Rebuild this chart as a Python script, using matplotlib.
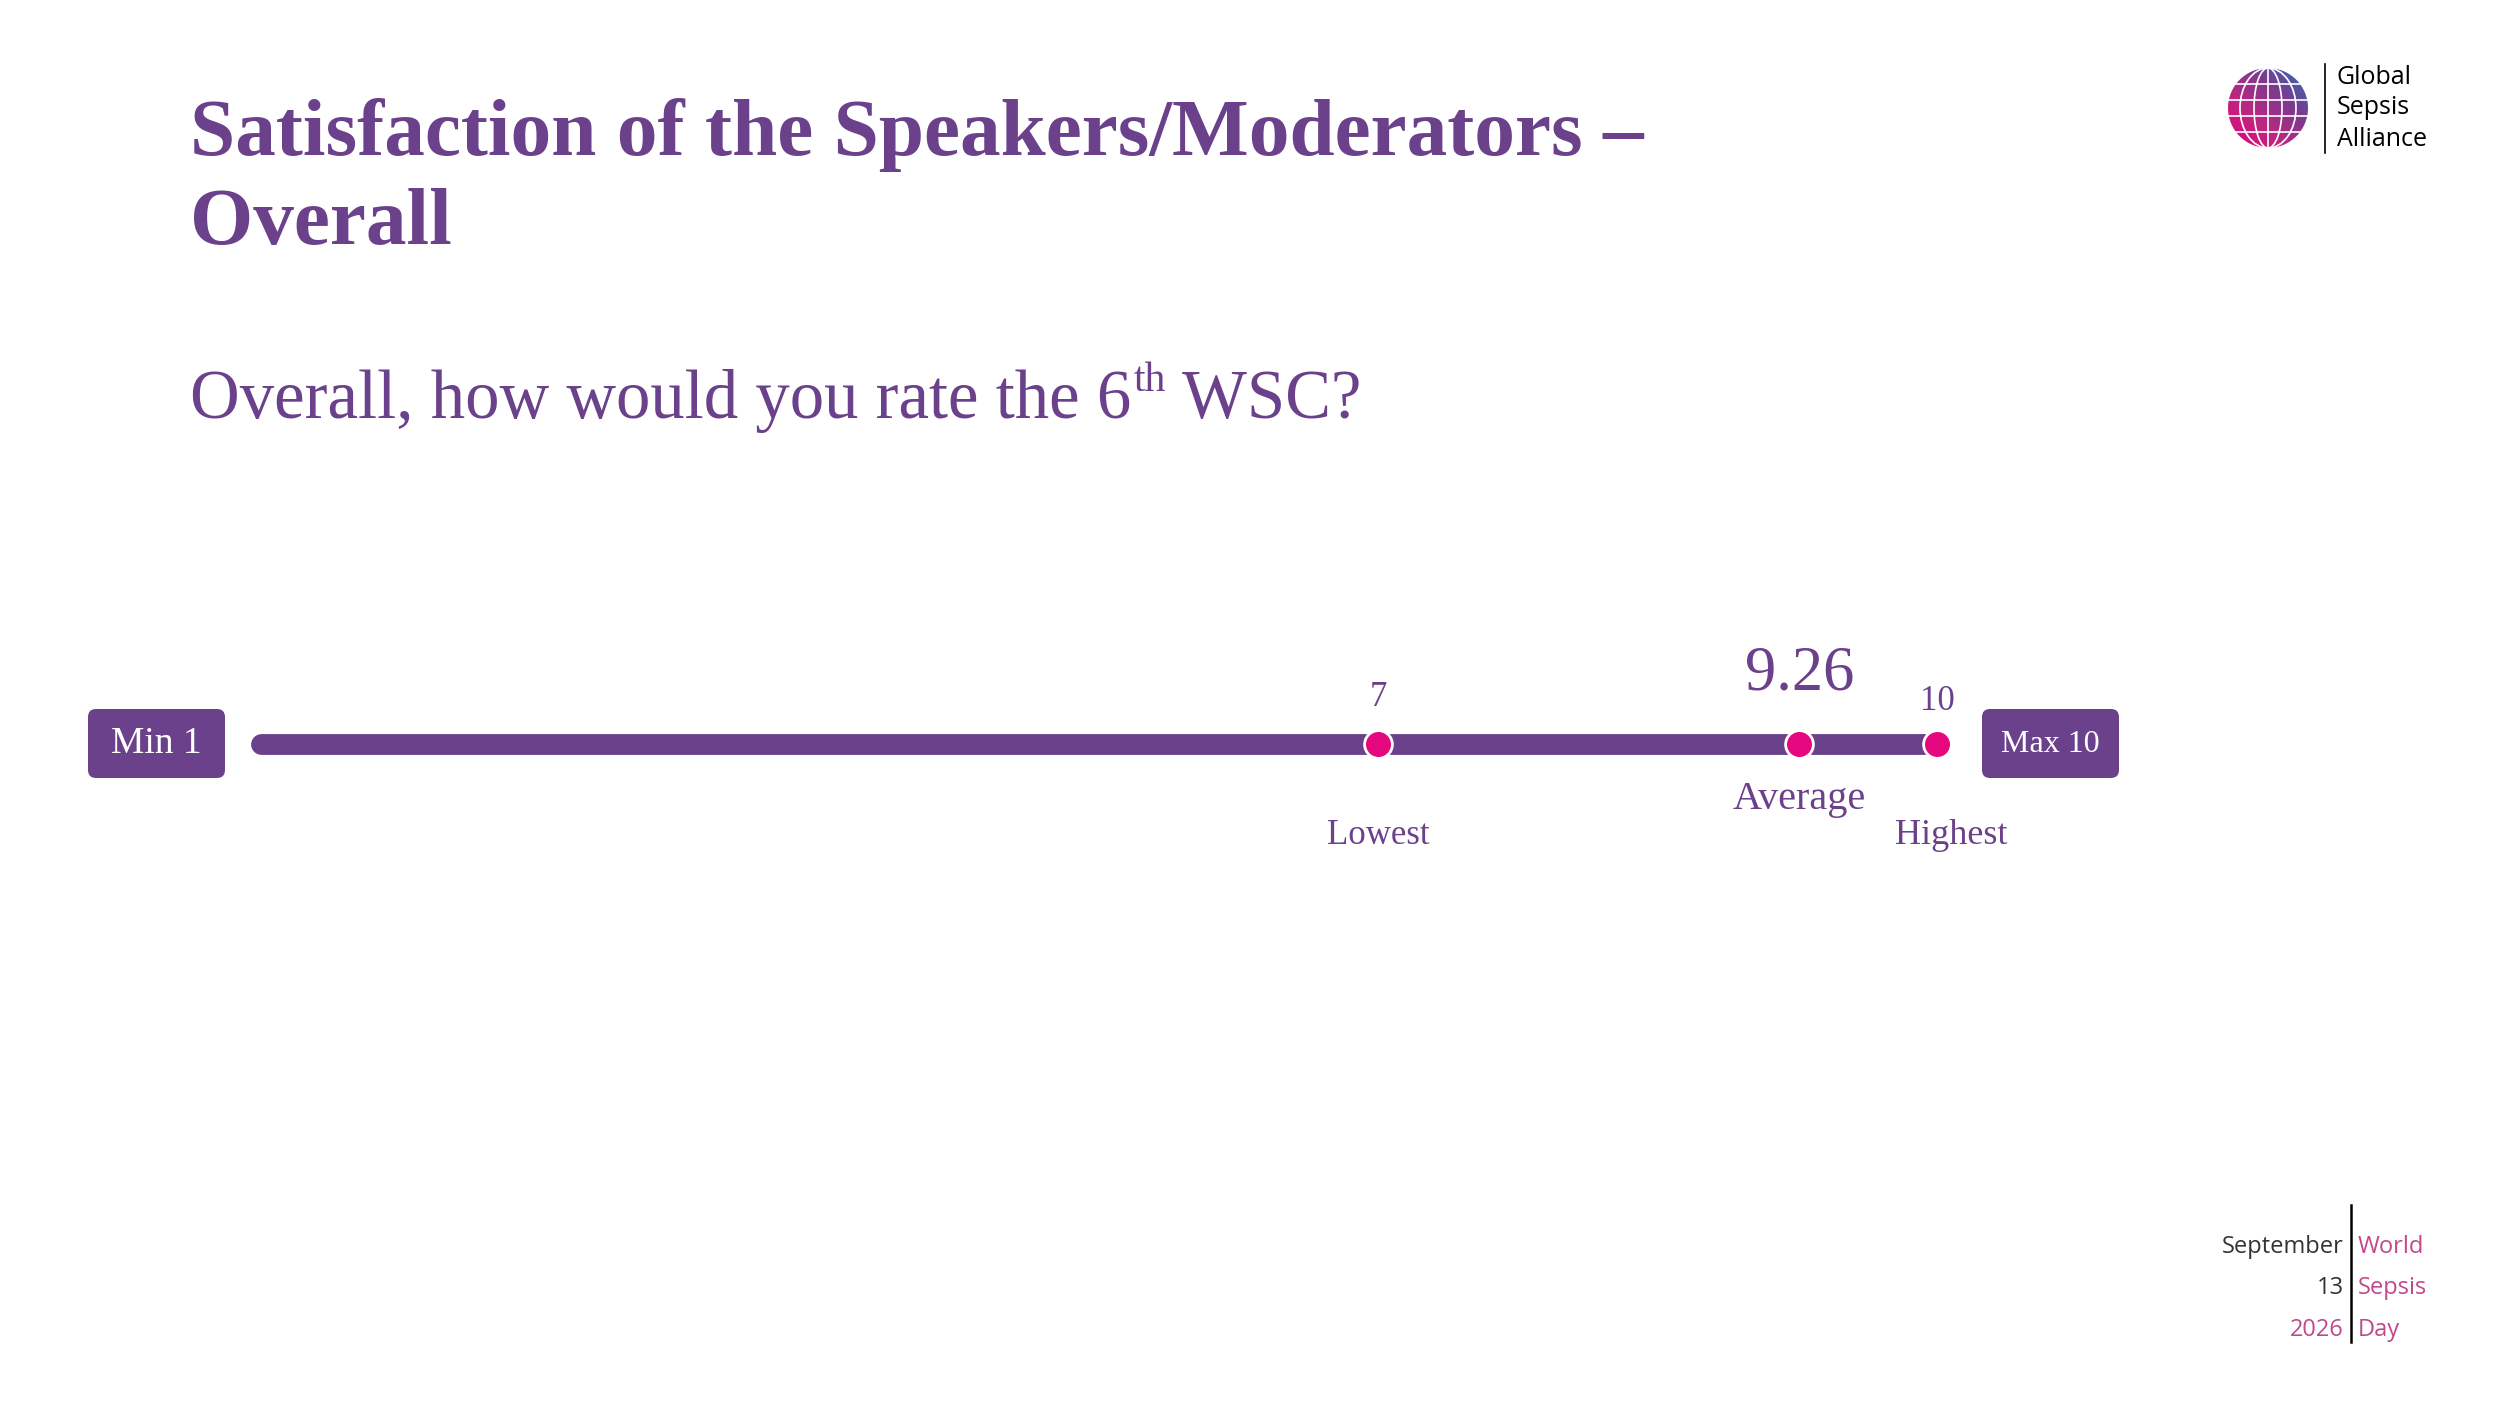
import matplotlib
matplotlib.use("Agg")
import matplotlib.pyplot as plt
import numpy as np
from matplotlib.patches import FancyBboxPatch, Circle, Ellipse
from matplotlib.transforms import IdentityTransform

# data
scale_min = 1
scale_max = 10
stat_names = ["Lowest", "Average", "Highest"]
stat_values = [7, 9.26, 10]
stat_labels = ["7", "9.26", "10"]

title_lines = ["Satisfaction of the Speakers/Moderators \u2013", "Overall"]
question = ["Overall, how would you rate the 6", "th", " WSC?"]

PURPLE = "#6b418b"
PINK = "#e5077e"
W, H = 2500, 1406
SERIF = ["Liberation Serif", "DejaVu Serif"]

fig = plt.figure(figsize=(25, 14.06), dpi=100)
fig.patch.set_facecolor("white")


def fx(x):
    return x / W


def fy(y):
    return 1 - y / H


# titles
fig.text(fx(190), fy(155), title_lines[0], family=SERIF, weight="bold",
         size=58.5, color=PURPLE, va="baseline")
fig.text(fx(190), fy(244), title_lines[1], family=SERIF, weight="bold",
         size=58.5, color=PURPLE, va="baseline")

r = fig.canvas.get_renderer()
t1 = fig.text(fx(190), fy(418), question[0], family=SERIF, size=49.5,
              color=PURPLE, va="baseline")
bb = t1.get_window_extent(r)
t2 = fig.text(bb.x1 / W + 0.001, fy(400), question[1], family=SERIF, size=30,
              color=PURPLE, va="bottom")
bb2 = t2.get_window_extent(r)
fig.text(bb2.x1 / W, fy(418), question[2], family=SERIF, size=49.5,
         color=PURPLE, va="baseline")

# scale axes
ax = fig.add_axes([0, 0, 1, 1])
px_per_unit = (1937 - 261) / (scale_max - scale_min)
x0 = scale_min - 261 / px_per_unit
ax.set_xlim(x0, x0 + W / px_per_unit)
ax.set_ylim(H, 0)
ax.axis("off")

bar_y = 744
ax.plot([scale_min, scale_max], [bar_y, bar_y], color=PURPLE, lw=15,
        solid_capstyle="round", zorder=2)
ax.scatter(stat_values, [bar_y] * len(stat_values), s=20 ** 2, color=PINK,
           edgecolor="white", linewidth=2, zorder=3)

value_dy = [47, 70, 43]
value_size = [25, 45, 25]
name_dy = [-91, -56, -91]
name_dx = [0, 0, 14]
name_size = [25, 29, 26]
for v, lab, name, vdy, vs, ndy, ndx, ns in zip(stat_values, stat_labels, stat_names,
                                               value_dy, value_size, name_dy,
                                               name_dx, name_size):
    ax.annotate(lab, (v, bar_y), xytext=(0, vdy), textcoords="offset pixels",
                ha="center", va="center", family=SERIF, size=vs, color=PURPLE)
    ax.annotate(name, (v, bar_y), xytext=(ndx, ndy), textcoords="offset pixels",
                ha="center", va="center", family=SERIF, size=ns, color=PURPLE)

# min / max boxes
for x_left, txt, fs in [(88, f"Min {scale_min}", 27), (1982, f"Max {scale_max}", 23)]:
    box = FancyBboxPatch((x_left, H - 778), 137, 69,
                         boxstyle="round,pad=0,rounding_size=8",
                         transform=IdentityTransform(), facecolor=PURPLE,
                         edgecolor="none", zorder=4)
    fig.patches.append(box)
    fig.text(fx(x_left + 68.5), fy(744), txt, family=SERIF, size=fs,
             color="white", ha="center", va="center", zorder=5)

# logo: globe
gax = fig.add_axes([fx(2226), fy(150), 84 / W, 84 / H])
gax.set_xlim(-1.05, 1.05)
gax.set_ylim(-1.05, 1.05)
gax.set_aspect("equal")
gax.axis("off")
gx, gy = np.meshgrid(np.linspace(-1, 1, 200), np.linspace(-1, 1, 200))
grad = (gx + gy + 2) / 4
cmap = matplotlib.colors.LinearSegmentedColormap.from_list(
    "globe", ["#e4007c", "#c0257f", "#7a3b8f", "#2f6fb5"])
im = gax.imshow(grad, extent=(-1, 1, -1, 1), origin="lower", cmap=cmap)
clip = Circle((0, 0), 1, transform=gax.transData)
im.set_clip_path(clip)
for w in [0.35, 0.7]:
    gax.add_patch(Ellipse((0, 0), 2 * w, 2, facecolor="none", edgecolor="white", lw=1.2))
gax.plot([0, 0], [-1, 1], color="white", lw=1.2)
for yy in [-0.6, -0.2, 0.2, 0.6]:
    hw = np.sqrt(1 - yy ** 2)
    gax.plot([-hw, hw], [yy, yy], color="white", lw=1.2)

fig.add_artist(plt.Line2D([fx(2325), fx(2325)], [fy(64), fy(153)],
                          color="black", lw=1.2))
for i, word in enumerate(["Global", "Sepsis", "Alliance"]):
    fig.text(fx(2337), fy(77 + 31 * i), word, family="Open Sans", size=18,
             color="black", ha="left", va="center")

# bottom right date block
fig.add_artist(plt.Line2D([fx(2351), fx(2351)], [fy(1205), fy(1342)],
                          color="black", lw=1.8))
DATE_PINK = "#c2488e"
left_words = [("September", "#333333"), ("13", "#333333"), ("2026", DATE_PINK)]
right_words = ["World", "Sepsis", "Day"]
for i in range(3):
    yy = fy(1247 + 41.5 * i)
    fig.text(fx(2344), yy, left_words[i][0], family="Open Sans",
             size=17, color=left_words[i][1], ha="right", va="center")
    fig.text(fx(2358), yy, right_words[i], family="Open Sans",
             size=17, color=DATE_PINK, ha="left", va="center")

fig.savefig("out.png", dpi=100, facecolor="white")
